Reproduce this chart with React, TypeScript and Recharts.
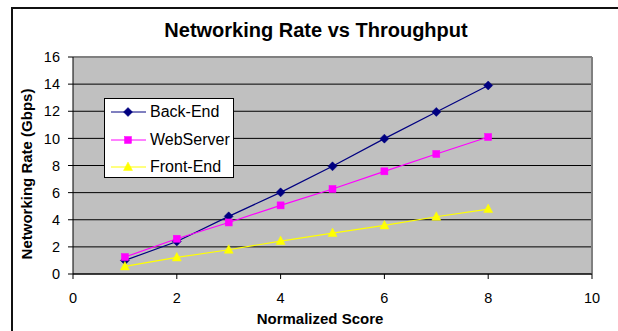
import React from "react";
import {
  LineChart,
  Line,
  XAxis,
  YAxis,
  CartesianGrid,
  ReferenceLine,
} from "recharts";

const FONT = "Arial, 'Liberation Sans', sans-serif";

// normalized score (x) and networking rate in Gbps for each tier
const scores = [1, 2, 3, 4, 5, 6, 7, 8];
const backEnd = [1.0, 2.4, 4.25, 6.02, 7.94, 9.98, 11.95, 13.9];
const webServer = [1.25, 2.6, 3.8, 5.06, 6.27, 7.57, 8.85, 10.1];
const frontEnd = [0.56, 1.22, 1.79, 2.43, 3.02, 3.58, 4.22, 4.79];

const xTicks = [0, 2, 4, 6, 8, 10];
const yTicks = [0, 2, 4, 6, 8, 10, 12, 14, 16];

const data = scores.map((x, i) => ({
  x,
  backEnd: backEnd[i],
  webServer: webServer[i],
  frontEnd: frontEnd[i],
}));

const series = [
  { key: "backEnd", name: "Back-End", color: "#000080", shape: "diamond" },
  { key: "webServer", name: "WebServer", color: "#FF00FF", shape: "square" },
  { key: "frontEnd", name: "Front-End", color: "#FFFF00", shape: "triangle" },
];

function Marker({ cx, cy, shape, color }: { cx: number; cy: number; shape: string; color: string }) {
  if (shape === "diamond") {
    return (
      <path
        d={`M${cx},${cy - 4.5} L${cx + 4.5},${cy} L${cx},${cy + 4.5} L${cx - 4.5},${cy} Z`}
        fill={color}
        stroke={color}
        strokeWidth={0.5}
      />
    );
  }
  if (shape === "square") {
    return <rect x={cx - 3.5} y={cy - 3.5} width={7} height={7} fill={color} stroke={color} strokeWidth={0.5} />;
  }
  return (
    <path
      d={`M${cx},${cy - 5} L${cx + 4.5},${cy + 3.5} L${cx - 4.5},${cy + 3.5} Z`}
      fill={color}
      stroke={color}
      strokeWidth={0.5}
    />
  );
}

// legend box sits inside the plot area, upper left
const LegendBox = () => (
  <div
    style={{
      position: "absolute",
      left: 104,
      top: 98,
      width: 128,
      height: 78,
      background: "#fff",
      border: "1px solid #000",
      fontFamily: FONT,
      fontSize: 16,
      color: "#000",
    }}
  >
    {series.map((s, i) => (
      <div
        key={s.key}
        style={{
          position: "absolute",
          left: 5,
          top: 4 + i * 27.5,
          height: 18,
          display: "flex",
          alignItems: "center",
          whiteSpace: "nowrap",
        }}
      >
        <svg width={38} height={18} style={{ display: "block" }}>
          <line x1={1} y1={9} x2={36} y2={9} stroke={s.color} strokeWidth={1} />
          <Marker cx={18} cy={9} shape={s.shape} color={s.color} />
        </svg>
        <span style={{ marginLeft: 2 }}>{s.name}</span>
      </div>
    ))}
  </div>
);

export default function App() {
  return (
    <div
      style={{
        position: "absolute",
        left: 0,
        top: 0,
        width: 618,
        height: 331,
        overflow: "hidden",
        background: "#fff",
      }}
    >
      <div
        style={{
          position: "absolute",
          left: 11,
          top: 7,
          width: 700,
          height: 400,
          borderLeft: "2px solid #111",
          borderTop: "2px solid #111",
        }}
      />
      <div
        style={{
          position: "absolute",
          left: 0,
          width: 632,
          top: 19,
          textAlign: "center",
          fontFamily: FONT,
          fontWeight: "bold",
          fontSize: 20,
          color: "#000",
        }}
      >
        Networking Rate vs Throughput
      </div>
      <div style={{ position: "absolute", left: 0, top: 0 }}>
        <LineChart width={618} height={331} data={data} margin={{ top: 57, right: 26, bottom: 27, left: 13 }}>
          <CartesianGrid vertical={false} stroke="#000" fill="#C0C0C0" fillOpacity={1} />
          <XAxis
            type="number"
            dataKey="x"
            domain={[0, 10]}
            ticks={xTicks}
            height={30}
            stroke="#000"
            tickSize={5}
            tickMargin={14}
            tick={{ fill: "#000", fontSize: 14.5, fontFamily: FONT }}
            label={() => (
              <text x={320} y={324} textAnchor="middle" fontFamily={FONT} fontWeight="bold" fontSize={15} fill="#000">
                Normalized Score
              </text>
            )}
          />
          <YAxis
            type="number"
            domain={[0, 16]}
            ticks={yTicks}
            width={60}
            stroke="#000"
            tickSize={5}
            tickMargin={8}
            tick={{ fill: "#000", fontSize: 14.5, fontFamily: FONT }}
            label={() => (
              <text
                x={32}
                y={174}
                textAnchor="middle"
                transform="rotate(-90 32 174)"
                fontFamily={FONT}
                fontWeight="bold"
                fontSize={15}
                fill="#000"
              >
                Networking Rate (Gbps)
              </text>
            )}
          />
          <ReferenceLine y={16} stroke="#808080" strokeWidth={2} />
          <ReferenceLine x={10} stroke="#808080" strokeWidth={2} />
          {series.map((s) => (
            <Line
              key={s.key}
              dataKey={s.key}
              name={s.name}
              type="linear"
              stroke={s.color}
              strokeWidth={1.2}
              isAnimationActive={false}
              dot={(p: any) => <Marker key={`${s.key}-${p.index}`} cx={p.cx} cy={p.cy} shape={s.shape} color={s.color} />}
              activeDot={false}
            />
          ))}
        </LineChart>
      </div>
      <LegendBox />
    </div>
  );
}
